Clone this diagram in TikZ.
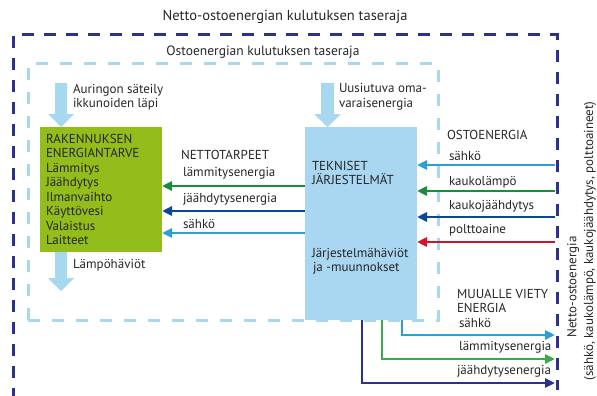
\documentclass[tikz,border=0pt]{standalone}
\usepackage{fontspec}
\setmainfont{PT Sans}
\usetikzlibrary{arrows.meta}
\definecolor{indigo}{HTML}{2E3189}
\definecolor{paleblue}{HTML}{A8D8F0}
\definecolor{boxblue}{HTML}{A9D6F1}
\definecolor{boxgreen}{HTML}{93BD1A}
\definecolor{lgreen}{HTML}{1A8C3C}
\definecolor{dblue}{HTML}{0D4698}
\definecolor{lblue}{HTML}{2BA0D8}
\definecolor{fred}{HTML}{D2142B}
\definecolor{ogreen}{HTML}{3AAA4A}
\tikzset{
  x=1pt,y=-1pt,
  every node/.style={inner sep=0pt,outer sep=0pt,font=\fontsize{13}{14.5}\selectfont,text=black!85},
  lbl/.style={anchor=west},
  outerdash/.style={draw=indigo,line width=3pt,dash pattern=on 12pt off 10pt},
  innerdash/.style={draw=paleblue,line width=3pt,dash pattern=on 12pt off 12pt},
  flow/.style={line width=2.6pt,-{Triangle[length=10pt,width=9pt]}},
  blockarrow/.style={fill=paleblue,draw=none}
}
\begin{document}
\begin{tikzpicture}
\useasboundingbox (0,0) rectangle (597,396);
% title texts
\node (title) at (285,17) {\fontsize{14.5}{16}\selectfont Netto-ostoenergian kulutuksen taseraja};
\node (subtitle) at (263,52) {\fontsize{13.5}{15}\selectfont Ostoenergian kulutuksen taseraja};
% dashed borders
\begin{scope}
\clip (0,0) rectangle (597,396);
\draw[outerdash] (13,400) -- (13,35) -- (557,35) -- (557,390);
\end{scope}
\draw[innerdash] (28,320) -- (28,64) -- (438,64) -- (438,320) -- (28,320);
% boxes
\node[fill=boxgreen,minimum width=122pt,minimum height=125pt,anchor=north west] (need) at (40,127) {};
\node[fill=boxblue,minimum width=112pt,minimum height=193pt,anchor=north west] (tech) at (305,127) {};
\node[anchor=north west,align=left] (needtxt) at (46,134) {RAKENNUKSEN\\ENERGIANTARVE\\Lämmitys\\Jäähdytys\\Ilmanvaihto\\Käyttövesi\\Valaistus\\Laitteet};
\node[anchor=north west,align=left] (techtxt) at (312,161) {TEKNISET\\JÄRJESTELMÄT};
\node[anchor=north west,align=left] (losstxt) at (312,248) {Järjestelmähäviöt\\\hspace{1pt}ja -muunnokset};
% block arrows
\fill[blockarrow] (55,83) -- (67,83) -- (67,114) -- (74,114) -- (61,127) -- (48,114) -- (55,114) -- cycle;
\fill[blockarrow] (321,83) -- (334,83) -- (334,114) -- (341,114) -- (327.5,127) -- (314,114) -- (321,114) -- cycle;
\fill[blockarrow] (55,252) -- (67,252) -- (67,278) -- (74,278) -- (61,291) -- (48,278) -- (55,278) -- cycle;
\node[lbl,align=left] (sun) at (73,97) {Auringon säteily\\ikkunoiden läpi};
\node[lbl,align=left] (renew) at (339,97) {Uusiutuva oma-\\varaisenergia};
\node[lbl] (loss) at (73,265) {Lämpöhäviöt};
% net needs arrows
\coordinate (n1) at (tech.west |- 0,186);
\coordinate (n2) at (tech.west |- 0,211);
\coordinate (n3) at (tech.west |- 0,233);
\draw[flow,lgreen] (n1) -- (need.east |- n1);
\draw[flow,dblue] (n2) -- (need.east |- n2);
\draw[flow,lblue] (n3) -- (need.east |- n3);
\node[lbl] (nt) at (181,155) {NETTOTARPEET};
\node[lbl] (nt1) at (183,173) {lämmitysenergia};
\node[lbl] (nt2) at (183,199) {jäähdytysenergia};
\node[lbl] (nt3) at (183,224) {sähkö};
% purchased energy
\coordinate (p1) at (555,165);
\coordinate (p2) at (555,191);
\coordinate (p3) at (555,217);
\coordinate (p4) at (555,242);
\draw[flow,lblue] (p1) -- (tech.east |- p1);
\draw[flow,lgreen] (p2) -- (tech.east |- p2);
\draw[flow,dblue] (p3) -- (tech.east |- p3);
\draw[flow,fred] (p4) -- (tech.east |- p4);
\node[lbl] (ost) at (447,135) {OSTOENERGIA};
\node[lbl] (o1) at (449,156) {sähkö};
\node[lbl] (o2) at (449,182) {kaukolämpö};
\node[lbl] (o3) at (449,206) {kaukojäähdytys};
\node[lbl] (o4) at (449,230) {polttoaine};
% exported energy
\coordinate (e1) at (555,335);
\coordinate (e2) at (555,359);
\coordinate (e3) at (555,383);
\draw[flow,lblue] (tech.south -| 402,0) |- (e1);
\draw[flow,ogreen] (tech.south -| 382,0) |- (e2);
\draw[flow,indigo] (tech.south -| 362,0) |- (e3);
\node[lbl,align=left] (exp) at (457,301) {MUUALLE VIETY\\ENERGIA};
\node[lbl] (x1) at (459,323) {sähkö};
\node[lbl] (x2) at (459,347) {lämmitysenergia};
\node[lbl] (x3) at (457,371) {jäähdytysenergia};
% vertical texts
\node[rotate=90] (netv) at (573,287) {Netto-ostoenergia};
\node[rotate=90] (netv2) at (590,241) {(sähkö, kaukolämpö, kaukojäähdytys, polttoaineet)};
\end{tikzpicture}
\end{document}
